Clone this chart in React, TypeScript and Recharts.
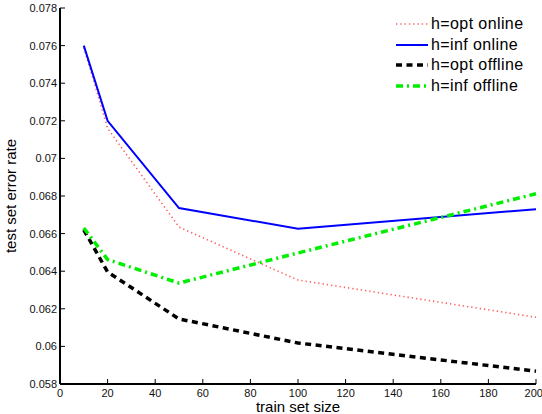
import { LineChart, Line, XAxis, YAxis, Legend } from "recharts"

const trainSizes = [10, 20, 50, 100, 200]
const optOnline = [0.0759, 0.0716, 0.06635, 0.06353, 0.06155]
const infOnline = [0.0760, 0.0720, 0.06736, 0.06626, 0.06730]
const optOffline = [0.0662, 0.06396, 0.06146, 0.06018, 0.05868]
const infOffline = [0.0663, 0.06462, 0.06337, 0.06497, 0.06812]

const xTicks = [0, 20, 40, 60, 80, 100, 120, 140, 160, 180, 200]
const yTicks = [0.058, 0.06, 0.062, 0.064, 0.066, 0.068, 0.07, 0.072, 0.074, 0.076, 0.078]

const data = trainSizes.map((n, i) => ({
  n,
  optOnline: optOnline[i],
  infOnline: infOnline[i],
  optOffline: optOffline[i],
  infOffline: infOffline[i],
}))

const font = "'Liberation Sans', Arial, Helvetica, sans-serif"

const series = [
  { key: "optOnline", name: "h=opt online", color: "#ff5c5c", width: 1.6, dash: "1.3 3" },
  { key: "infOnline", name: "h=inf online", color: "#0000ff", width: 2, dash: undefined },
  { key: "optOffline", name: "h=opt offline", color: "#000000", width: 3.5, dash: "6 4.5" },
  { key: "infOffline", name: "h=inf offline", color: "#00ee00", width: 3.5, dash: "7 4 2 4" },
]

function LegendBox() {
  return (
    <div style={{ fontFamily: font, fontSize: 16, letterSpacing: 0.4, color: "#000" }}>
      {series.map((s) => (
        <div key={s.key} style={{ display: "flex", alignItems: "center", height: 20.5 }}>
          <svg width={34} height={10} style={{ marginRight: 2 }}>
            <line x1={1} y1={5} x2={33} y2={5} stroke={s.color} strokeWidth={s.width} strokeDasharray={s.dash} />
          </svg>
          <span>{s.name}</span>
        </div>
      ))}
    </div>
  )
}

export default function App() {
  const tickStyle = { fontSize: 11, fontFamily: font, fill: "#111" }
  const axisLine = { stroke: "#000", strokeWidth: 2 }
  return (
    <div style={{ position: "absolute", left: 0, top: 0, background: "#fff" }}>
      <LineChart width={542} height={414} data={data} margin={{ top: 8, right: 6, bottom: 0, left: 0 }}>
        <XAxis
          dataKey="n"
          type="number"
          domain={[0, 200]}
          ticks={xTicks}
          height={30}
          tickSize={-5}
          tickMargin={10}
          stroke="#000"
          axisLine={axisLine}
          tick={tickStyle}
          label={{ value: "train set size", position: "insideBottom", offset: 2, style: { fontSize: 15, fontFamily: font, fill: "#000" } }}
        />
        <XAxis xAxisId="top" orientation="top" dataKey="n" type="number" domain={[0, 200]} ticks={xTicks} height={0} tickSize={-5} tick={false} stroke="#000" axisLine={axisLine} />
        <YAxis
          type="number"
          domain={[0.058, 0.078]}
          ticks={yTicks}
          width={60}
          tickSize={-5}
          tickMargin={8}
          stroke="#000"
          axisLine={axisLine}
          tick={tickStyle}
          tickFormatter={(v) => String(Number(v.toFixed(3)))}
          label={{ value: "test set error rate", angle: -90, position: "insideLeft", offset: 11, style: { fontSize: 15, fontFamily: font, fill: "#000", textAnchor: "middle" } }}
        />
        <YAxis yAxisId="right" orientation="right" type="number" domain={[0.058, 0.078]} ticks={yTicks} width={0} tickSize={-5} tick={false} stroke="#000" axisLine={axisLine} />
        <Legend
          layout="horizontal"
          verticalAlign="middle"
          align="center"
          content={() => <LegendBox />}
          wrapperStyle={{ left: 395, top: 14, width: 146 }}
        />
        {series.map((s) => (
          <Line
            key={s.key}
            dataKey={s.key}
            name={s.name}
            stroke={s.color}
            strokeWidth={s.width}
            strokeDasharray={s.dash}
            dot={false}
            activeDot={false}
            type="linear"
            isAnimationActive={false}
          />
        ))}
      </LineChart>
    </div>
  )
}
